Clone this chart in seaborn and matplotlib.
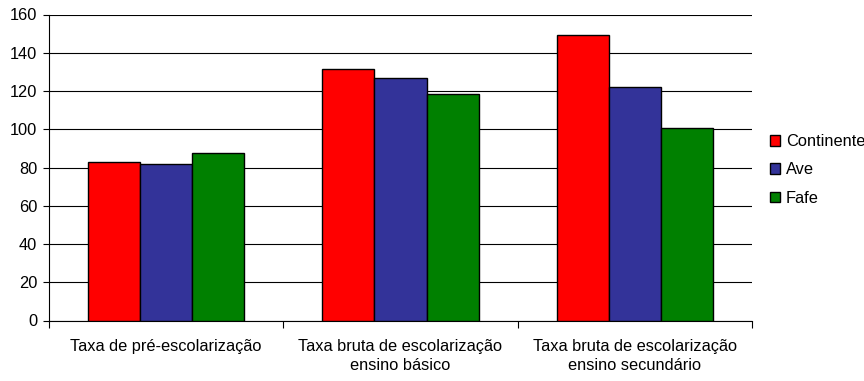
import matplotlib
matplotlib.use("Agg")
import matplotlib.pyplot as plt
import seaborn as sns
import pandas as pd
from matplotlib.ticker import FixedLocator, MultipleLocator

categories = [
    "Taxa de pré-escolarização",
    "Taxa bruta de escolarização\nensino básico",
    "Taxa bruta de escolarização\nensino secundário",
]
series = ["Continente", "Ave", "Fafe"]
continente = [83.0, 131.3, 149.3]
ave = [82.0, 126.8, 122.3]
fafe = [87.6, 118.3, 100.8]
colors = ["#FF0000", "#333399", "#008000"]

rows = []
for name, vals in zip(series, [continente, ave, fafe]):
    for cat, v in zip(categories, vals):
        rows.append({"categoria": cat, "serie": name, "valor": v})
df = pd.DataFrame(rows)

sns.set_style("white")
plt.rcParams["font.family"] = ["Liberation Sans", "DejaVu Sans"]
plt.rcParams["text.color"] = "black"
plt.rcParams["xtick.color"] = "black"
plt.rcParams["ytick.color"] = "black"
plt.rcParams["xtick.labelcolor"] = "black"
plt.rcParams["ytick.labelcolor"] = "black"
FS = 11.8

fig = plt.figure(figsize=(8.64, 3.81), dpi=100)
ax = fig.add_axes([49 / 864, 1 - 320.5 / 381, 703 / 864, 306 / 381])

sns.barplot(
    data=df, x="categoria", y="valor", hue="serie",
    order=categories, hue_order=series, palette=colors,
    width=3 / 4.5, gap=0, edgecolor="black", linewidth=1.0,
    saturation=1, ax=ax, zorder=3,
)

ax.set_xlim(-0.5, 2.5)
ax.set_ylim(0, 160)
ax.yaxis.set_major_locator(MultipleLocator(20))
ax.grid(axis="y", color="black", linewidth=0.8, zorder=0)
ax.set_axisbelow(True)

ax.set_xlabel("")
ax.set_ylabel("")

for s in ["top", "right"]:
    ax.spines[s].set_visible(False)
for s in ["left", "bottom"]:
    ax.spines[s].set_color("black")
    ax.spines[s].set_linewidth(0.8)

ax.tick_params(axis="y", which="major", left=True, length=4.5, width=0.8,
               color="black", labelcolor="black", labelsize=FS, pad=4)
ax.tick_params(axis="x", which="major", bottom=False, labelcolor="black",
               labelsize=FS, pad=10)
for lbl in ax.get_xticklabels():
    lbl.set_linespacing(1.3)
ax.xaxis.set_minor_locator(FixedLocator([-0.5, 0.5, 1.5, 2.5]))
ax.tick_params(axis="x", which="minor", bottom=True, length=5, width=0.8,
               color="black")

handles, labels = ax.get_legend_handles_labels()
leg = ax.legend(handles, labels, loc="center left", bbox_to_anchor=(1.016, 0.492),
                frameon=False, fontsize=FS, handlelength=0.6, handleheight=0.6,
                handletextpad=0.37, labelspacing=0.8, borderaxespad=0)
for t in leg.get_texts():
    t.set_color("black")

fig.savefig("out.png", dpi=100)
